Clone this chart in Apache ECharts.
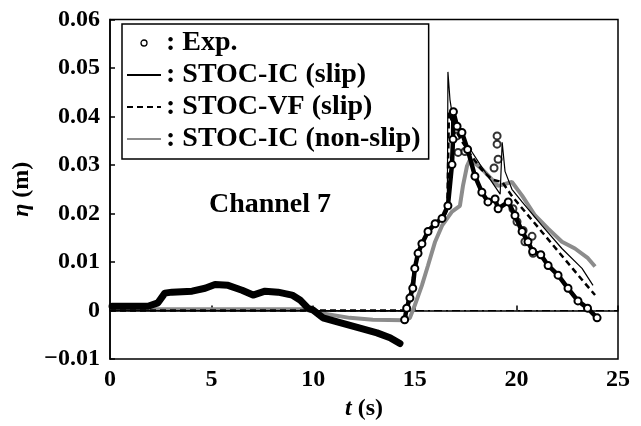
<!DOCTYPE html>
<html>
<head>
<meta charset="utf-8">
<script src="https://cdn.jsdelivr.net/npm/echarts@6/dist/echarts.min.js"></script>
<style>
  html, body { margin: 0; padding: 0; background: #fff; }
  #chart { width: 641px; height: 426px; }
</style>
</head>
<body>
<div id="chart"></div>
<script>
// values, [t (s), eta (m)]
const expBand = [[0.1,0.0009],[1.87,0.0009],[2.36,0.0016],[2.7,0.0036],[3.05,0.0038],[4.04,0.004],[4.68,0.0046],[5.17,0.0054],[5.81,0.0052],[6.5,0.0042],[7.04,0.0032],[7.63,0.004],[8.27,0.0038],[8.96,0.0032],[9.35,0.0022],[9.74,0.0005],[9.99,0.0001],[10.48,-0.0015],[11.32,-0.0025],[12.3,-0.0036],[13.14,-0.0046],[13.78,-0.0056],[14.27,-0.0068]];
const expRise = [[14.5,-0.0019],[14.6,0.0005],[14.76,0.0026],[14.9,0.0046],[15.0,0.0087],[15.16,0.0118],[15.35,0.0138],[15.65,0.0163],[16.0,0.0179],[16.34,0.019],[16.63,0.0216],[16.83,0.0301],[16.88,0.0353],[16.9,0.041],[17.08,0.038],[17.32,0.0367],[17.6,0.0332],[17.96,0.0277],[18.3,0.0244],[18.6,0.0224],[18.95,0.023],[19.1,0.021],[19.6,0.0224],[19.93,0.0196],[20.28,0.0163],[20.57,0.0142],[20.8,0.0122],[21.2,0.0115],[21.56,0.0093],[22.05,0.0073],[22.54,0.0046],[23.03,0.002],[23.5,0.0005],[23.97,-0.0015]];
const expScatter = [[19.05,0.036],[19.05,0.0343],[19.1,0.0312],[18.9,0.0294],[19.83,0.021],[20.03,0.0183],[20.33,0.0165],[20.42,0.0142],[20.77,0.0153],[20.82,0.0118],[17.13,0.0326],[17.47,0.0328],[17.08,0.036]];
const icSlip = [[0,0],[14.5,0],[14.76,0.004],[15.0,0.0094],[15.26,0.0128],[15.65,0.0169],[16.1,0.0183],[16.5,0.0196],[16.6,0.0205],[16.63,0.0492],[16.73,0.0435],[16.88,0.0394],[17.08,0.038],[17.22,0.0363],[17.72,0.0333],[18.2,0.0302],[18.7,0.0271],[19.2,0.024],[19.3,0.0347],[19.44,0.0287],[19.78,0.025],[20.28,0.0224],[21.26,0.0175],[22.24,0.0128],[23.23,0.0087],[23.77,0.0052]];
const vfSlip = [[0,0],[14.6,0],[14.8,0.004],[15.0,0.0092],[15.3,0.0132],[15.7,0.0168],[16.2,0.0186],[16.6,0.0205],[16.68,0.041],[16.9,0.038],[17.3,0.035],[17.8,0.0318],[18.3,0.029],[18.8,0.027],[19.3,0.0265],[19.8,0.0235],[20.3,0.021],[20.8,0.0185],[21.3,0.016],[21.8,0.0135],[22.3,0.011],[22.8,0.0085],[23.3,0.006],[23.87,0.0032]];
const icNonSlip = [[0,0.0003],[9.5,0.0003],[10.33,-0.0005],[11.8,-0.0015],[12.94,-0.0019],[14.5,-0.002],[14.76,-0.0015],[15.0,0.0011],[15.35,0.0052],[15.65,0.0093],[16.0,0.0142],[16.34,0.0175],[16.83,0.0204],[17.22,0.0216],[17.37,0.0257],[17.57,0.0298],[17.72,0.0312],[18.3,0.0292],[19.1,0.0257],[19.78,0.0265],[20.28,0.0237],[20.92,0.0196],[21.56,0.0169],[22.24,0.0142],[22.88,0.0128],[23.52,0.0108],[23.87,0.0091]];
const zeroLine = [[0,0],[25,0]];
const legendNames = ['Exp.', 'STOC-IC (slip)', 'STOC-VF (slip)', 'STOC-IC (non-slip)'];

const serif = 'Liberation Serif';
const chart = echarts.init(document.getElementById('chart'));
const noDot = { opacity: 0 };

chart.setOption({
  animation: false,
  backgroundColor: '#fff',
  grid: {
    left: 110, right: 23, top: 19.5, bottom: 64.5,
    show: true, borderColor: '#000', borderWidth: 1.5
  },
  legend: {
    orient: 'vertical',
    left: 122, top: 24,
    padding: [5, 8, 6, 4],
    itemWidth: 34, itemHeight: 6, itemGap: 4,
    borderColor: '#000', borderWidth: 1.5,
    backgroundColor: '#fff',
    formatter: (n) => ': ' + n,
    textStyle: { fontFamily: serif, fontWeight: 'bold', fontSize: 28, color: '#000' },
    data: [
      { name: legendNames[0], icon: 'circle', itemStyle: { color: '#fff', borderColor: '#000', borderWidth: 1.3 } },
      { name: legendNames[1], itemStyle: noDot },
      { name: legendNames[2], itemStyle: noDot },
      { name: legendNames[3], itemStyle: noDot }
    ]
  },
  graphic: [{
    type: 'text', x: 270, y: 205,
    style: { text: 'Channel 7', fontFamily: serif, fontWeight: 'bold', fontSize: 28,
             fill: '#000', align: 'center', verticalAlign: 'middle' }
  }],
  xAxis: {
    type: 'value', min: 0, max: 25, interval: 5,
    name: '{i|t} (s)', nameLocation: 'middle', nameGap: 36,
    nameTextStyle: { fontFamily: serif, fontWeight: 'bold', fontSize: 24, color: '#000',
      rich: { i: { fontFamily: serif, fontWeight: 'bold', fontStyle: 'italic', fontSize: 24 } } },
    axisLine: { lineStyle: { color: '#000', width: 1.5 } },
    axisTick: { inside: true, length: 5, lineStyle: { color: '#000', width: 1.5 } },
    axisLabel: { margin: 9, fontFamily: serif, fontWeight: 'bold', fontSize: 24, color: '#000' },
    splitLine: { show: false }
  },
  yAxis: {
    type: 'value', min: -0.01, max: 0.06, interval: 0.01,
    name: '{i|η} (m)', nameLocation: 'middle', nameGap: 74,
    nameTextStyle: { fontFamily: serif, fontWeight: 'bold', fontSize: 24, color: '#000',
      rich: { i: { fontFamily: serif, fontWeight: 'bold', fontStyle: 'italic', fontSize: 24 } } },
    axisLine: { lineStyle: { color: '#000', width: 1.5 } },
    axisTick: { inside: true, length: 5, lineStyle: { color: '#000', width: 1.5 } },
    axisLabel: {
      margin: 10, fontFamily: serif, fontWeight: 'bold', fontSize: 24, color: '#000',
      formatter: (v) => {
        const r = Math.round(v * 100) / 100;
        if (r === 0) return '0';
        return r.toFixed(2).replace('-', '\u2212');
      }
    },
    splitLine: { show: false }
  },
  series: [
    {
      name: 'zero', type: 'line', data: zeroLine, symbol: 'none', silent: true,
      lineStyle: { color: '#000', width: 1.2, type: [8, 4, 2, 4] }
    },
    {
      name: 'STOC-IC (non-slip)', type: 'line', data: icNonSlip, symbol: 'none',
      lineStyle: { color: '#8c8c8c', width: 4 }, itemStyle: { color: '#8c8c8c' }
    },
    {
      name: 'STOC-VF (slip)', type: 'line', data: vfSlip, symbol: 'none',
      lineStyle: { color: '#000', width: 2.5, type: [6, 4] }, itemStyle: { color: '#000' }
    },
    {
      name: 'STOC-IC (slip)', type: 'line', data: icSlip, symbol: 'none',
      lineStyle: { color: '#000', width: 1.2 }, itemStyle: { color: '#000' }
    },
    {
      name: 'Exp.', type: 'line', data: expBand, symbol: 'none',
      lineStyle: { color: '#000', width: 7, cap: 'round', join: 'round' }, itemStyle: { color: '#000' }
    },
    {
      name: 'Exp.', type: 'line', data: expRise, symbol: 'emptyCircle', symbolSize: 7, showAllSymbol: true,
      lineStyle: { color: '#000', width: 4.5, join: 'round' },
      itemStyle: { color: '#000', borderColor: '#000', borderWidth: 1.5 }
    },
    {
      name: 'Exp.', type: 'scatter', data: expScatter, symbol: 'emptyCircle', symbolSize: 7,
      itemStyle: { color: '#000', borderColor: '#000', borderWidth: 1.5 }
    }
  ]
});
</script>
</body>
</html>
